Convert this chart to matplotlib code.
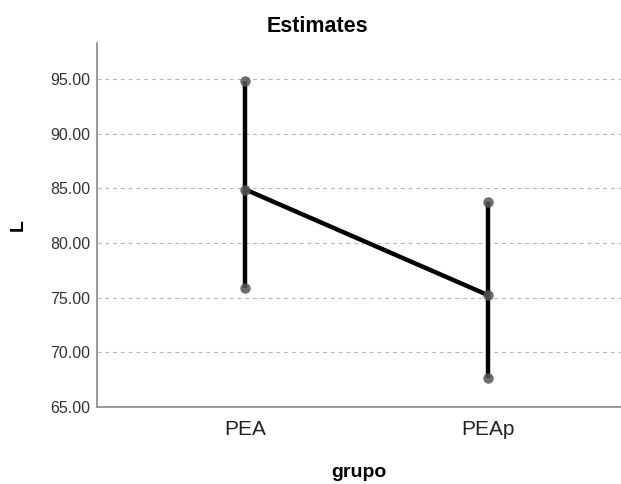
import numpy as np
import matplotlib
matplotlib.use('Agg')
import matplotlib.pyplot as plt

plt.rcParams['font.family'] = ['Liberation Sans', 'DejaVu Sans']

# data
grupos = ['PEA', 'PEAp']
media = [84.9, 75.25]
lower = [75.9, 67.65]
upper = [94.8, 83.75]
yticks = [65, 70, 75, 80, 85, 90, 95]

fig = plt.figure(figsize=(6.21, 4.84), dpi=100)
ax = fig.add_axes([0.1562, 0.159, 0.8438, 0.752])

x = np.arange(len(grupos))

# error bars (vertical lines)
for i in range(len(grupos)):
    ax.plot([x[i], x[i]], [lower[i], upper[i]], color='black', lw=3.2, solid_capstyle='butt', zorder=3)
    ax.plot([x[i], x[i]], [lower[i], upper[i]], 'o', color='#555555', ms=7.5, alpha=0.85, zorder=4, mec='none')

# mean line
ax.plot(x, media, color='black', lw=3.2, zorder=3)
ax.plot(x, media, 'o', color='#555555', ms=7.5, alpha=0.85, zorder=4, mec='none')

ax.set_xlim(-0.6125, 1.55)
ax.set_ylim(65, 98.3)
ax.set_yticks(yticks)
ax.set_yticklabels(['%.2f' % v for v in yticks], fontsize=11.5, color='#333333')
ax.set_xticks(x)
ax.set_xticklabels(grupos, fontsize=15, color='#222222')
ax.tick_params(axis='both', length=0)
ax.tick_params(axis='x', pad=9)
ax.tick_params(axis='y', pad=5)

ax.yaxis.grid(True, linestyle=(0, (3.5, 3.5)), color='#b8b8b8', lw=0.8)
ax.set_axisbelow(True)

for s in ['top', 'right']:
    ax.spines[s].set_visible(False)
for s in ['left', 'bottom']:
    ax.spines[s].set_color('#888888')
    ax.spines[s].set_linewidth(1.2)

ax.set_title('Estimates', fontsize=15.5, fontweight='bold', pad=8, x=0.42)
ax.set_xlabel('grupo', fontsize=14, fontweight='bold', labelpad=18)
ax.set_ylabel('L', fontsize=14, fontweight='bold', labelpad=17)

fig.savefig('out.png', dpi=100)
